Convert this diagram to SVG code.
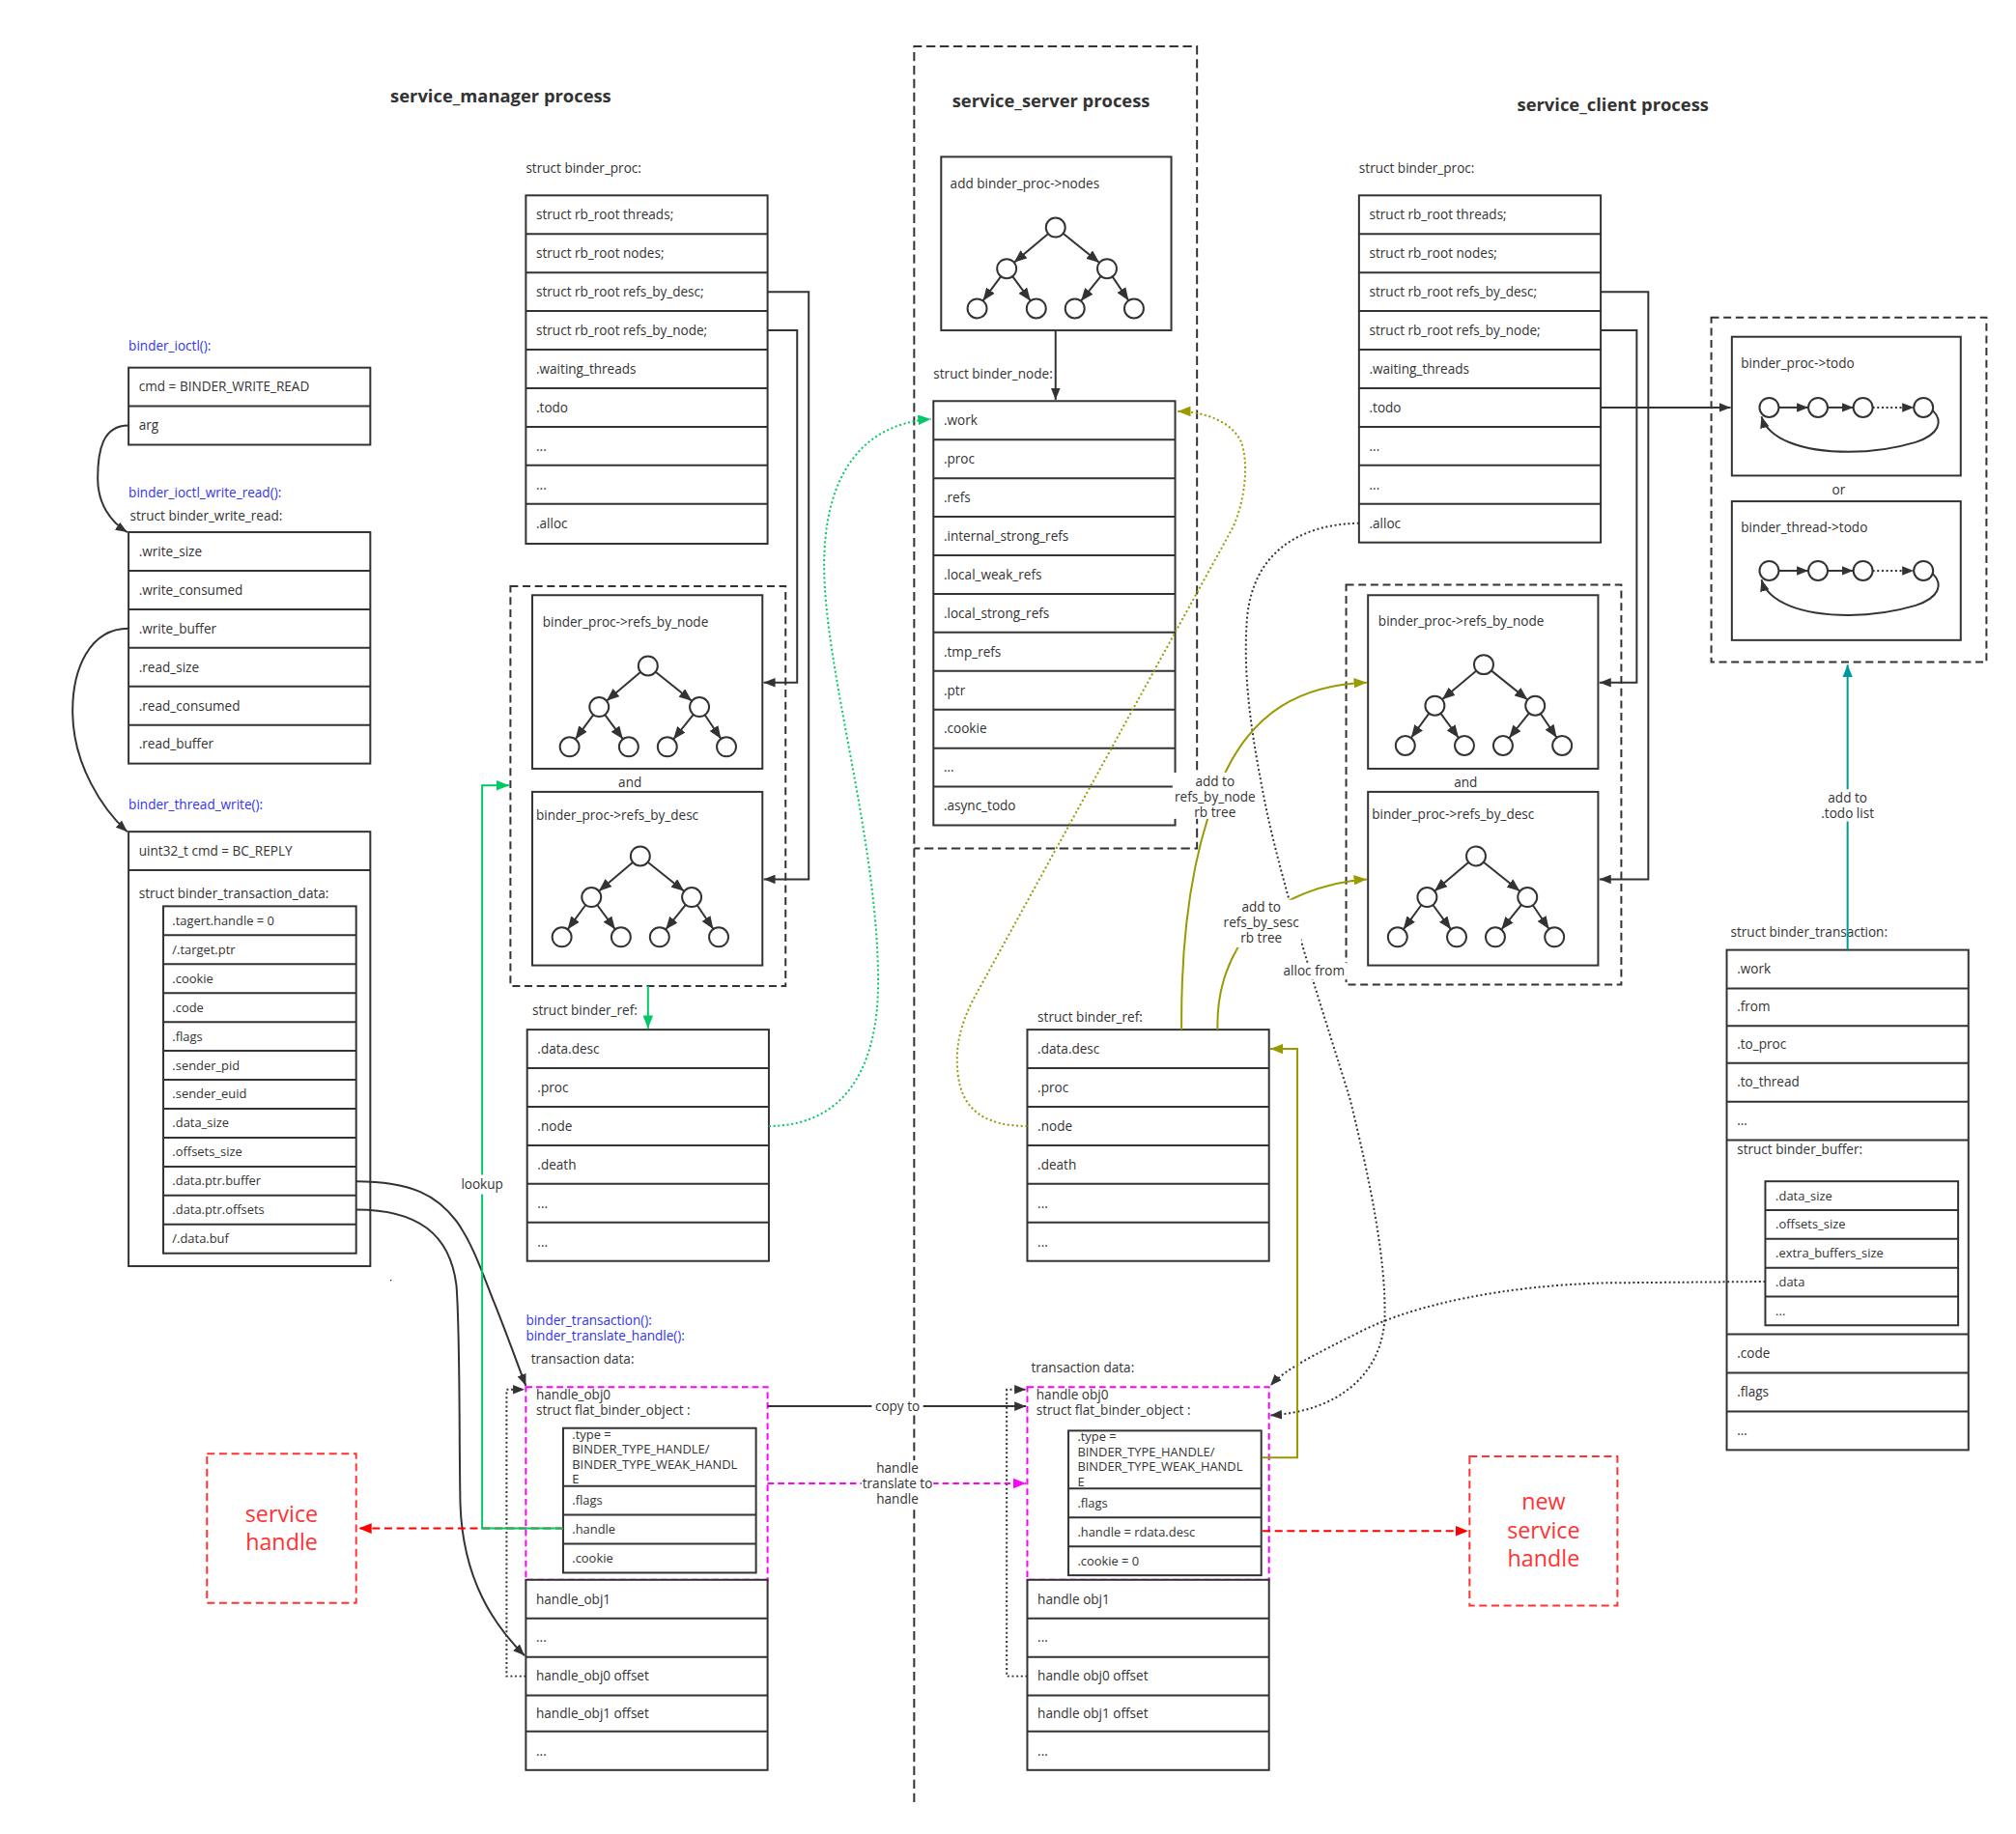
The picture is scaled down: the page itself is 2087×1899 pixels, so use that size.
<svg xmlns="http://www.w3.org/2000/svg" width="2087" height="1899" viewBox="0 0 2087 1899">
<style>
.bx{fill:#fff;stroke:#333;stroke-width:1.5}
.nf{fill:none;stroke:#333;stroke-width:1.5}
.ln{stroke:#333;stroke-width:1.5;fill:none}
.dsh{fill:none;stroke:#333;stroke-width:1.5;stroke-dasharray:6 3.5}
.t{font-family:'Open Sans','Liberation Sans',sans-serif;font-size:10.2px;fill:#333}
.s{font-size:9.7px}
.bl{fill:#3333ee}
.ti{font-family:'Open Sans','Liberation Sans',sans-serif;font-size:13.8px;font-weight:bold;fill:#333;text-anchor:middle}
.rd{font-family:'Open Sans','Liberation Sans',sans-serif;font-size:17.5px;fill:#ff3333;text-anchor:middle}
.mid{text-anchor:middle}
.c{fill:#fff;stroke:#333;stroke-width:1.5}
.dk{fill:none;stroke:#333;stroke-width:1.5}
.dot{fill:none;stroke:#333;stroke-width:1.5;stroke-dasharray:1.5 2}
.gr{fill:none;stroke:#00c864;stroke-width:1.5}
.grd{fill:none;stroke:#00c864;stroke-width:1.5;stroke-dasharray:1.5 2}
.mg{fill:none;stroke:#ff00ff;stroke-width:1.5;stroke-dasharray:5 3}
.red{fill:none;stroke:#ff0000;stroke-width:1.5;stroke-dasharray:6 3.5}
.rbx{fill:none;stroke:#ff3333;stroke-width:1.5;stroke-dasharray:6 3.5}
.ol{fill:none;stroke:#999900;stroke-width:1.5}
.old{fill:none;stroke:#999900;stroke-width:1.5;stroke-dasharray:1.5 2}
.tl{fill:none;stroke:#009999;stroke-width:1.5}
.wb{fill:#fff}
</style>
<defs>
<marker id="a" viewBox="0 0 10 8" refX="10" refY="4" markerWidth="9" markerHeight="7.2" orient="auto" markerUnits="userSpaceOnUse"><path d="M0,0L10,4L0,8z" fill="#333"/></marker>
<marker id="at2" viewBox="0 0 10 8" refX="10" refY="4" markerWidth="10" markerHeight="8" orient="auto" markerUnits="userSpaceOnUse"><path d="M0,0L10,4L0,8z" fill="#333"/></marker>
<marker id="ag" viewBox="0 0 10 8" refX="10" refY="4" markerWidth="10" markerHeight="8" orient="auto" markerUnits="userSpaceOnUse"><path d="M0,0L10,4L0,8z" fill="#00c864"/></marker>
<marker id="am" viewBox="0 0 10 8" refX="10" refY="4" markerWidth="10" markerHeight="8" orient="auto" markerUnits="userSpaceOnUse"><path d="M0,0L10,4L0,8z" fill="#ff00ff"/></marker>
<marker id="ar" viewBox="0 0 10 8" refX="10" refY="4" markerWidth="10" markerHeight="8" orient="auto" markerUnits="userSpaceOnUse"><path d="M0,0L10,4L0,8z" fill="#ff0000"/></marker>
<marker id="ao" viewBox="0 0 10 8" refX="10" refY="4" markerWidth="10" markerHeight="8" orient="auto" markerUnits="userSpaceOnUse"><path d="M0,0L10,4L0,8z" fill="#999900"/></marker>
<marker id="at" viewBox="0 0 10 8" refX="10" refY="4" markerWidth="10" markerHeight="8" orient="auto" markerUnits="userSpaceOnUse"><path d="M0,0L10,4L0,8z" fill="#009999"/></marker>
<g id="tree">
<path class="ln" marker-end="url(#at2)" d="M-5.7,4.8L-32.3,27.2"/>
<path class="ln" marker-end="url(#at2)" d="M5.9,4.7L34.1,27.3"/>
<path class="ln" marker-end="url(#at2)" d="M-42.5,38L-56.5,57"/>
<path class="ln" marker-end="url(#at2)" d="M-33.5,38L-19.5,57"/>
<path class="ln" marker-end="url(#at2)" d="M35.3,37.8L19.7,57.2"/>
<path class="ln" marker-end="url(#at2)" d="M44.2,38.2L56.8,56.8"/>
<circle class="c" cx="0" cy="0" r="7.5"/>
<circle class="c" cx="-38" cy="32" r="7.5"/>
<circle class="c" cx="40" cy="32" r="7.5"/>
<circle class="c" cx="-61" cy="63" r="7.5"/>
<circle class="c" cx="-15" cy="63" r="7.5"/>
<circle class="c" cx="15" cy="63" r="7.5"/>
<circle class="c" cx="61" cy="63" r="7.5"/>
</g>
<g id="list">
<circle class="c" cx="0" cy="0" r="7.5"/>
<circle class="c" cx="38" cy="0" r="7.5"/>
<circle class="c" cx="73" cy="0" r="7.5"/>
<circle class="c" cx="120" cy="0" r="7.5"/>
<path class="ln" marker-end="url(#a)" d="M7.5,0H30.5"/>
<path class="ln" marker-end="url(#a)" d="M45.5,0H65.5"/>
<path class="dot" marker-end="url(#a)" d="M80.5,0H112.5"/>
<path class="ln" marker-end="url(#a)" d="M127,2C136,11 132,21 114,27C94,33 74,34.5 62,34.5C24,34.5 -1,24 -6,7"/>
</g>
</defs>
<rect width="2087" height="1899" fill="#fff"/>
<g transform="scale(1.331)">

<g id="titles">
<text class="ti" x="389.5" y="79.5">service_manager process</text>
<text class="ti" x="817.5" y="83.5">service_server process</text>
<text class="ti" x="1254.5" y="86.5">service_client process</text>
</g>

<g id="server-frame">
<path class="dsh" style="stroke-dasharray:7 3.5" d="M711,1402V36H931V660H711"/>
</g>

<g id="ioctl">
<text class="t bl" x="100" y="272.6">binder_ioctl():</text>
<rect class="bx" x="100" y="286" width="188" height="60"/>
<path class="ln" d="M100,316H288"/>
<text class="t" x="108" y="304.6">cmd = BINDER_WRITE_READ</text>
<text class="t" x="108" y="334.6">arg</text>
</g>

<g id="write-read">
<text class="t bl" x="100" y="386.6">binder_ioctl_write_read():</text>
<text class="t" x="101" y="404.6">struct binder_write_read:</text>
<rect class="bx" x="100" y="414" width="188" height="180"/>
<path class="ln" d="M100,444H288M100,474H288M100,504H288M100,534H288M100,564H288"/>
<text class="t" x="108" y="432.6">.write_size</text>
<text class="t" x="108" y="462.6">.write_consumed</text>
<text class="t" x="108" y="492.6">.write_buffer</text>
<text class="t" x="108" y="522.6">.read_size</text>
<text class="t" x="108" y="552.6">.read_consumed</text>
<text class="t" x="108" y="582.6">.read_buffer</text>
</g>

<g id="thread-write">
<text class="t bl" x="100" y="629.6">binder_thread_write():</text>
<rect class="bx" x="100" y="647" width="188" height="338"/>
<path class="ln" d="M100,677H288"/>
<text class="t" x="108" y="665.6">uint32_t cmd = BC_REPLY</text>
<text class="t" x="108" y="698.6">struct binder_transaction_data:</text>
<rect class="bx" x="127" y="705" width="150" height="270"/>
<path class="ln" d="M127,727.5H277M127,750H277M127,772.5H277M127,795H277M127,817.5H277M127,840H277M127,862.5H277M127,885H277M127,907.5H277M127,930H277M127,952.5H277"/>
<text class="t s" x="134" y="719.6">.tagert.handle = 0</text>
<text class="t s" x="134" y="742.1">/.target.ptr</text>
<text class="t s" x="134" y="764.6">.cookie</text>
<text class="t s" x="134" y="787.1">.code</text>
<text class="t s" x="134" y="809.6">.flags</text>
<text class="t s" x="134" y="832.1">.sender_pid</text>
<text class="t s" x="134" y="854.6">.sender_euid</text>
<text class="t s" x="134" y="877.1">.data_size</text>
<text class="t s" x="134" y="899.6">.offsets_size</text>
<text class="t s" x="134" y="922.1">.data.ptr.buffer</text>
<text class="t s" x="134" y="944.6">.data.ptr.offsets</text>
<text class="t s" x="134" y="967.1">/.data.buf</text>
<rect x="303.5" y="995.5" width="1" height="1" fill="#333"/>
</g>

<g id="sm-proc">
<text class="t" x="409" y="134.6">struct binder_proc:</text>
<rect class="bx" x="409" y="152" width="188" height="271"/>
<path class="ln" d="M409,182H597M409,212H597M409,242H597M409,272H597M409,302H597M409,332H597M409,362H597M409,392H597"/>
<text class="t" x="417" y="170.6">struct rb_root threads;</text>
<text class="t" x="417" y="200.6">struct rb_root nodes;</text>
<text class="t" x="417" y="230.6">struct rb_root refs_by_desc;</text>
<text class="t" x="417" y="260.6">struct rb_root refs_by_node;</text>
<text class="t" x="417" y="290.6">.waiting_threads</text>
<text class="t" x="417" y="320.6">.todo</text>
<text class="t" x="417" y="350.6">...</text>
<text class="t" x="417" y="380.6">...</text>
<text class="t" x="417" y="410.6">.alloc</text>
</g>

<g id="sm-refs">
<rect class="dsh" x="397" y="456" width="214" height="311"/>
<rect class="bx" x="414" y="463" width="179" height="135"/>
<text class="t" x="422" y="487.6">binder_proc-&gt;refs_by_node</text>
<use href="#tree" x="504" y="518"/>
<text class="t mid" x="490" y="612">and</text>
<rect class="bx" x="414" y="616" width="179" height="135"/>
<text class="t" x="417" y="637.6">binder_proc-&gt;refs_by_desc</text>
<use href="#tree" x="498" y="666"/>
</g>

<g id="sm-ref">
<text class="t" x="414" y="789.6">struct binder_ref:</text>
<rect class="bx" x="410" y="801" width="188" height="180"/>
<path class="ln" d="M410,831H598M410,861H598M410,891H598M410,921H598M410,951H598"/>
<text class="t" x="418" y="819.6">.data.desc</text>
<text class="t" x="418" y="849.6">.proc</text>
<text class="t" x="418" y="879.6">.node</text>
<text class="t" x="418" y="909.6">.death</text>
<text class="t" x="418" y="939.6">...</text>
<text class="t" x="418" y="969.6">...</text>
</g>

<g id="sm-transaction">
<text class="t bl" x="409" y="1031">binder_transaction():</text>
<text class="t bl" x="409" y="1043">binder_translate_handle():</text>
<text class="t" x="413" y="1060.5">transaction data:</text>
<rect class="bx" x="438" y="1111" width="150" height="112.5"/>
<path class="ln" d="M438,1156H588M438,1178.5H588M438,1201H588"/>
<text class="t s" x="445" y="1119.3">.type =</text>
<text class="t s" x="445" y="1130.7">BINDER_TYPE_HANDLE/</text>
<text class="t s" x="445" y="1142.5">BINDER_TYPE_WEAK_HANDL</text>
<text class="t s" x="445" y="1154">E</text>
<text class="t s" x="445" y="1170.9">.flags</text>
<text class="t s" x="445" y="1193.4">.handle</text>
<text class="t s" x="445" y="1215.9">.cookie</text>
<rect class="mg" x="409" y="1079" width="188" height="150"/>
<text class="t" x="417" y="1088.6">handle_obj0</text>
<text class="t" x="417" y="1101">struct flat_binder_object :</text>
<rect class="bx" x="409" y="1229" width="188" height="148"/>
<path class="ln" d="M409,1259H597M409,1289H597M409,1319H597M409,1347H597"/>
<text class="t" x="417" y="1247.6">handle_obj1</text>
<text class="t" x="417" y="1277.6">...</text>
<text class="t" x="417" y="1307.6">handle_obj0 offset</text>
<text class="t" x="417" y="1336.6">handle_obj1 offset</text>
<text class="t" x="417" y="1365.6">...</text>
</g>

<g id="service-handle">
<rect class="rbx" x="161" y="1131" width="116" height="116"/>
<text class="rd" x="219" y="1184">service</text>
<text class="rd" x="219" y="1206">handle</text>
</g>

<g id="server-nodes">
<rect class="bx" x="732" y="122" width="179" height="135"/>
<text class="t" x="739" y="146.6">add binder_proc-&gt;nodes</text>
<use href="#tree" x="821" y="177"/>
</g>

<g id="server-node">
<text class="t" x="726" y="294.6">struct binder_node:</text>
<rect class="bx" x="726" y="312" width="188" height="330"/>
<path class="ln" d="M726,342H914M726,372H914M726,402H914M726,432H914M726,462H914M726,492H914M726,522H914M726,552H914M726,582H914M726,612H914"/>
<text class="t" x="734" y="330.6">.work</text>
<text class="t" x="734" y="360.6">.proc</text>
<text class="t" x="734" y="390.6">.refs</text>
<text class="t" x="734" y="420.6">.internal_strong_refs</text>
<text class="t" x="734" y="450.6">.local_weak_refs</text>
<text class="t" x="734" y="480.6">.local_strong_refs</text>
<text class="t" x="734" y="510.6">.tmp_refs</text>
<text class="t" x="734" y="540.6">.ptr</text>
<text class="t" x="734" y="570.6">.cookie</text>
<text class="t" x="734" y="600.6">...</text>
<text class="t" x="734" y="630.6">.async_todo</text>
</g>

<g id="server-ref">
<text class="t" x="807" y="794.6">struct binder_ref:</text>
<rect class="bx" x="799" y="801" width="188" height="180"/>
<path class="ln" d="M799,831H987M799,861H987M799,891H987M799,921H987M799,951H987"/>
<text class="t" x="807" y="819.6">.data.desc</text>
<text class="t" x="807" y="849.6">.proc</text>
<text class="t" x="807" y="879.6">.node</text>
<text class="t" x="807" y="909.6">.death</text>
<text class="t" x="807" y="939.6">...</text>
<text class="t" x="807" y="969.6">...</text>
</g>

<g id="server-transaction">
<text class="t" x="802" y="1067.6">transaction data:</text>
<rect class="bx" x="831" y="1113" width="150" height="112.5"/>
<path class="ln" d="M831,1158H981M831,1180.5H981M831,1203H981"/>
<text class="t s" x="838" y="1121.3">.type =</text>
<text class="t s" x="838" y="1132.7">BINDER_TYPE_HANDLE/</text>
<text class="t s" x="838" y="1144.5">BINDER_TYPE_WEAK_HANDL</text>
<text class="t s" x="838" y="1156">E</text>
<text class="t s" x="838" y="1172.9">.flags</text>
<text class="t s" x="838" y="1195.4">.handle = rdata.desc</text>
<text class="t s" x="838" y="1217.9">.cookie = 0</text>
<rect class="mg" x="799" y="1079" width="188" height="150"/>
<text class="t" x="806" y="1088.6">handle obj0</text>
<text class="t" x="806" y="1101">struct flat_binder_object :</text>
<rect class="bx" x="799" y="1229" width="188" height="148"/>
<path class="ln" d="M799,1259H987M799,1289H987M799,1319H987M799,1347H987"/>
<text class="t" x="807" y="1247.6">handle obj1</text>
<text class="t" x="807" y="1277.6">...</text>
<text class="t" x="807" y="1307.6">handle obj0 offset</text>
<text class="t" x="807" y="1336.6">handle obj1 offset</text>
<text class="t" x="807" y="1365.6">...</text>
</g>

<g id="new-service-handle">
<rect class="rbx" x="1143" y="1133" width="115" height="116"/>
<text class="rd" x="1200.5" y="1174">new</text>
<text class="rd" x="1200.5" y="1196.5">service</text>
<text class="rd" x="1200.5" y="1219">handle</text>
</g>

<g id="client-proc">
<text class="t" x="1057" y="134.6">struct binder_proc:</text>
<rect class="bx" x="1057" y="152" width="188" height="270"/>
<path class="ln" d="M1057,182H1245M1057,212H1245M1057,242H1245M1057,272H1245M1057,302H1245M1057,332H1245M1057,362H1245M1057,392H1245"/>
<text class="t" x="1065" y="170.6">struct rb_root threads;</text>
<text class="t" x="1065" y="200.6">struct rb_root nodes;</text>
<text class="t" x="1065" y="230.6">struct rb_root refs_by_desc;</text>
<text class="t" x="1065" y="260.6">struct rb_root refs_by_node;</text>
<text class="t" x="1065" y="290.6">.waiting_threads</text>
<text class="t" x="1065" y="320.6">.todo</text>
<text class="t" x="1065" y="350.6">...</text>
<text class="t" x="1065" y="380.6">...</text>
<text class="t" x="1065" y="410.6">.alloc</text>
</g>

<g id="client-refs">
<rect class="dsh" x="1047" y="455" width="214" height="311"/>
<rect class="bx" x="1064" y="463" width="179" height="135"/>
<text class="t" x="1072" y="487">binder_proc-&gt;refs_by_node</text>
<use href="#tree" x="1154" y="517"/>
<text class="t mid" x="1140" y="612">and</text>
<rect class="bx" x="1064" y="616" width="179" height="135"/>
<text class="t" x="1067" y="637">binder_proc-&gt;refs_by_desc</text>
<use href="#tree" x="1148" y="666"/>
</g>

<g id="client-todo">
<rect class="dsh" x="1331" y="247" width="214" height="268"/>
<rect class="bx" x="1347" y="262" width="178" height="108"/>
<text class="t" x="1354" y="286.6">binder_proc-&gt;todo</text>
<use href="#list" x="1376" y="317"/>
<text class="t mid" x="1430" y="385">or</text>
<rect class="bx" x="1347" y="390" width="178" height="108"/>
<text class="t" x="1354" y="414">binder_thread-&gt;todo</text>
<use href="#list" x="1376" y="444"/>
</g>

<g id="client-transaction">
<text class="t" x="1346" y="728.6">struct binder_transaction:</text>
<rect class="bx" x="1343" y="739" width="188" height="389"/>
<path class="ln" d="M1343,769H1531M1343,798H1531M1343,827H1531M1343,857H1531M1343,887H1531M1343,1038H1531M1343,1068H1531M1343,1098H1531"/>
<text class="t" x="1351" y="757.6">.work</text>
<text class="t" x="1351" y="787">.from</text>
<text class="t" x="1351" y="816">.to_proc</text>
<text class="t" x="1351" y="845.6">.to_thread</text>
<text class="t" x="1351" y="875.6">...</text>
<text class="t" x="1351" y="897.6">struct binder_buffer:</text>
<rect class="bx" x="1373" y="919" width="150" height="112"/>
<path class="ln" d="M1373,941.4H1523M1373,963.8H1523M1373,986.2H1523M1373,1008.6H1523"/>
<text class="t s" x="1381" y="933.6">.data_size</text>
<text class="t s" x="1381" y="956">.offsets_size</text>
<text class="t s" x="1381" y="978.4">.extra_buffers_size</text>
<text class="t s" x="1381" y="1000.8">.data</text>
<text class="t s" x="1381" y="1023.2">...</text>
<text class="t" x="1351" y="1056.6">.code</text>
<text class="t" x="1351" y="1086.6">.flags</text>
<text class="t" x="1351" y="1116.6">...</text>
</g>

<g id="connectors">
<path class="dk" marker-end="url(#a)" d="M100,331C80,331 76,350 76,372C76,392 86,406 99,414"/>
<path class="dk" marker-end="url(#a)" d="M100,489C70,489 56,520 56.5,555C57,595 80,630 99,647"/>
<path class="dk" marker-end="url(#a)" d="M277,919C320,919 340,930 355,950C368,968 375,990 385,1015C395,1040 402,1060 409,1078"/>
<path class="dk" marker-end="url(#a)" d="M277,941C325,941 350,960 355,1000C358,1040 357,1120 358,1170C360,1230 385,1265 408,1288"/>
<path class="dk" marker-end="url(#a)" d="M821,257.5V311"/>
<path class="dk" marker-end="url(#a)" d="M597,227H629V684H594"/>
<path class="dk" marker-end="url(#a)" d="M597,257H620V531H594"/>
<path class="dk" marker-end="url(#a)" d="M1245,227H1282V684H1244"/>
<path class="dk" marker-end="url(#a)" d="M1245,257H1273V531H1244"/>
<path class="dk" marker-end="url(#a)" d="M1245,317H1346"/>
<path class="dk" marker-end="url(#a)" d="M597,1094H798"/>
<path class="dot" marker-end="url(#a)" d="M409,1304H394V1081H408"/>
<path class="dot" marker-end="url(#a)" d="M799,1304H783V1081H798"/>
<path class="dot" marker-end="url(#a)" d="M1057,407C1010,408 975,430 970,480C966,530 975,580 985,630C1000,700 1030,790 1050,855C1066,920 1078,980 1077,1025C1075,1070 1040,1098 988,1101"/>
<path class="dot" marker-end="url(#a)" d="M1373,997L1250,998C1170,1000 1100,1015 1060,1035C1020,1055 1000,1065 988,1078"/>
<path class="red" marker-end="url(#ar)" d="M438,1189H279"/>
<path class="red" marker-end="url(#ar)" d="M982,1191H1142"/>
<path class="gr" marker-end="url(#ag)" d="M504,767V800"/>
<path class="gr" marker-end="url(#ag)" d="M438,1189H375V611H396"/>
<path class="grd" marker-end="url(#ag)" d="M598,876C650,876 684,840 683,760C682,650 641,520 641,440C641,370 670,330 724,326"/>
<path class="mg" marker-end="url(#am)" d="M597,1154H798"/>
<path class="old" marker-end="url(#ao)" d="M799,876C768,876 748,865 745,835C742,810 750,790 760,772L958,412C968,392 972,360 965,343C957,327 935,320 916,320"/>
<path class="ol" marker-end="url(#ao)" d="M919,801C918,700 935,640 953,601C975,555 1010,533 1063,531"/>
<path class="ol" marker-end="url(#ao)" d="M947,801C946,765 958,740 975,720C995,700 1030,686 1063,684"/>
<path class="ol" marker-end="url(#ao)" d="M982,1134H1009V816H988"/>
<path class="tl" marker-end="url(#at)" d="M1437,739V517"/>

<rect class="wb" x="360" y="914" width="30" height="15"/>
<text class="t mid" x="375" y="925">lookup</text>
<rect class="wb" x="678" y="1088" width="40" height="12"/>
<text class="t mid" x="698" y="1097.6">copy to</text>
<rect class="wb" x="670" y="1136" width="56" height="36"/>
<text class="t mid" x="698" y="1145.6">handle</text>
<text class="t mid" x="698" y="1157.6">translate to</text>
<text class="t mid" x="698" y="1169.6">handle</text>
<rect class="wb" x="912" y="601" width="66" height="36"/>
<text class="t mid" x="945" y="611.6">add to</text>
<text class="t mid" x="945" y="623.6">refs_by_node</text>
<text class="t mid" x="945" y="635.6">rb tree</text>
<rect class="wb" x="950" y="700" width="62" height="37"/>
<text class="t mid" x="981" y="709.6">add to</text>
<text class="t mid" x="981" y="721.6">refs_by_sesc</text>
<text class="t mid" x="981" y="733.6">rb tree</text>
<rect class="wb" x="997" y="749" width="51" height="13"/>
<text class="t mid" x="1022" y="758.6">alloc from</text>
<rect class="wb" x="1414" y="614" width="46" height="25"/>
<text class="t mid" x="1437" y="624.6">add to</text>
<text class="t mid" x="1437" y="636.6">.todo list</text>
</g>
</g>
</svg>
